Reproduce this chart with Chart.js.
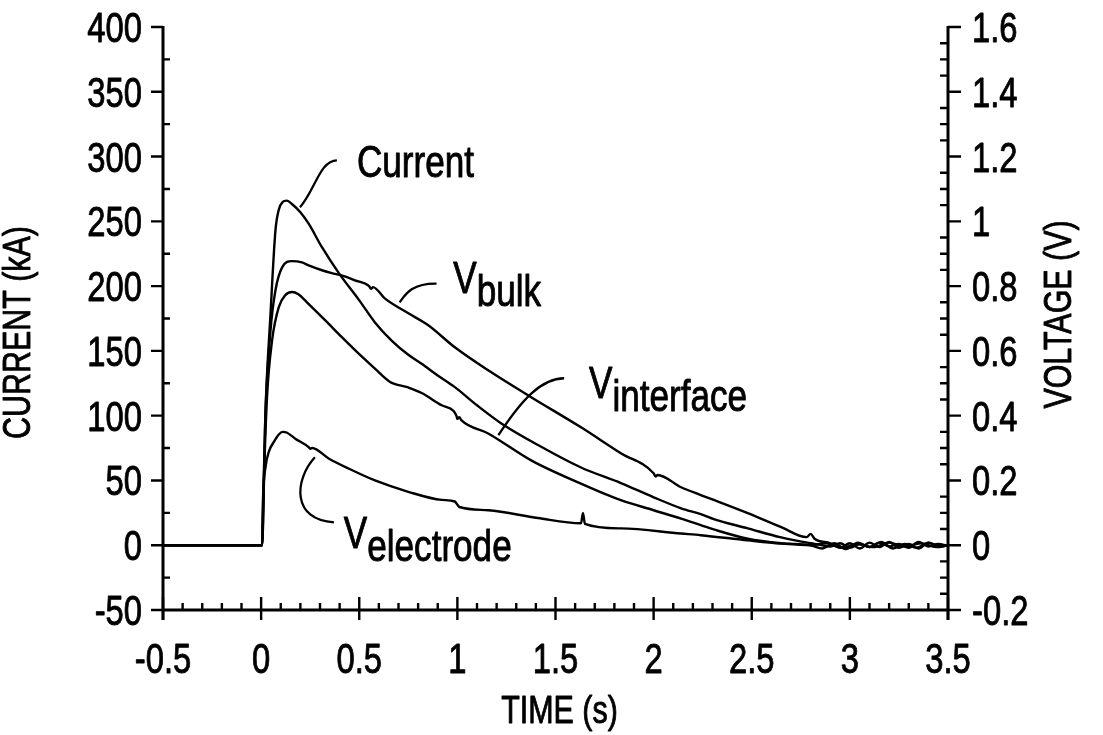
<!DOCTYPE html>
<html>
<head>
<meta charset="utf-8">
<style>
  html, body { margin: 0; padding: 0; background: #fff; }
  #wrap { width: 1103px; height: 735px; }
</style>
<script src="https://cdn.jsdelivr.net/npm/chart.js@4.4.1/dist/chart.umd.min.js"></script>
</head>
<body>
<div id="wrap"><canvas id="myChart" width="1103" height="735"></canvas></div>
<script>
// no narrow face is installed, so Liberation Sans is squeezed sideways
const FONT = "'Liberation Sans', Arial, sans-serif";
const SQUEEZE = 0.78;

// axis ticks
const timeTicks = [-0.5, 0, 0.5, 1, 1.5, 2, 2.5, 3, 3.5];
const currentTicks = [-50, 0, 50, 100, 150, 200, 250, 300, 350, 400];
const voltageTicks = [-0.2, 0, 0.2, 0.4, 0.6, 0.8, 1, 1.2, 1.4, 1.6];
const timeMinor = 0.1, currentMinor = 25, voltageMinor = 0.05;

// Current (kA), left axis
const currentTime = [-0.5, 0, 0.005, 0.022, 0.048, 0.073, 0.09, 0.11, 0.13, 0.16, 0.2, 0.243, 0.31, 0.396,
  0.5, 0.58, 0.665, 0.75, 0.818, 0.9, 0.987, 1.1, 1.224, 1.427, 1.63, 1.833, 2.0, 2.14, 2.24, 2.31, 2.48,
  2.65, 2.8, 2.84, 2.9, 2.95, 3.0, 3.05, 3.1, 3.15, 3.2, 3.25, 3.3, 3.35, 3.4, 3.45, 3.5];
const currentKA = [0, 0, 0, 102, 179, 243, 259, 265, 266, 263, 257, 248, 230, 210,
  189, 172, 158, 147, 140, 131, 122, 108, 94, 76, 60, 48, 37, 28.5, 24, 20, 13,
  6, 1.5, 0.5, -1, 1.5, -2, 1, -1.5, 2, -1, 1, -2, 2.5, -1, 1, -0.5];

// V bulk (V), right axis
const bulkTime = [-0.5, 0, 0.005, 0.009, 0.022, 0.048, 0.073, 0.107, 0.157, 0.208, 0.242, 0.31, 0.36, 0.41,
  0.478, 0.55, 0.56, 0.57, 0.63, 0.75, 0.85, 0.987, 1.157, 1.376, 1.63, 1.833, 2.0, 2.01, 2.02, 2.14, 2.24,
  2.31, 2.48, 2.65, 2.78, 2.8, 2.82, 2.9, 2.95, 3.0, 3.05, 3.1, 3.15, 3.2, 3.25, 3.3, 3.35, 3.4, 3.45, 3.5];
const bulkV = [0, 0, 0, 0.1, 0.407, 0.664, 0.787, 0.858, 0.877, 0.873, 0.864, 0.849, 0.84, 0.833,
  0.818, 0.8, 0.792, 0.797, 0.762, 0.716, 0.68, 0.611, 0.54, 0.457, 0.364, 0.284, 0.222, 0.212, 0.217, 0.179, 0.155,
  0.139, 0.099, 0.056, 0.025, 0.035, 0.02, 0.006, -0.008, 0.006, -0.01, 0.008, -0.006, 0.01, -0.008, 0.004, -0.01, 0.008, -0.004, 0];

// V interface (V), right axis
const interfaceTime = [-0.5, 0, 0.005, 0.014, 0.03, 0.056, 0.09, 0.123, 0.157, 0.19, 0.24, 0.327, 0.41, 0.496,
  0.58, 0.655, 0.75, 0.818, 0.92, 0.98, 0.995, 1.0, 1.01, 1.02, 1.157, 1.376, 1.63, 1.833, 2.0, 2.14, 2.24,
  2.31, 2.48, 2.65, 2.8, 2.86, 2.92, 2.98, 3.04, 3.1, 3.16, 3.22, 3.28, 3.34, 3.4, 3.46, 3.5];
const interfaceV = [0, 0, 0, 0.2, 0.457, 0.633, 0.735, 0.772, 0.782, 0.775, 0.746, 0.694, 0.643, 0.592,
  0.545, 0.505, 0.487, 0.47, 0.432, 0.415, 0.4, 0.39, 0.395, 0.386, 0.345, 0.262, 0.19, 0.139, 0.108, 0.082, 0.062,
  0.048, 0.02, 0.006, 0, -0.01, 0.006, -0.012, 0.008, -0.006, 0.01, -0.01, 0.004, -0.008, 0.008, -0.004, 0];

// V electrode (V), right axis
const electrodeTime = [-0.5, 0, 0.005, 0.01, 0.022, 0.04, 0.064, 0.09, 0.11, 0.13, 0.174, 0.242, 0.25, 0.26,
  0.344, 0.445, 0.58, 0.75, 0.92, 0.987, 1.0, 1.01, 1.157, 1.41, 1.63, 1.64, 1.65, 1.833, 2.14, 2.24, 2.48,
  2.65, 2.8, 2.88, 2.96, 3.04, 3.12, 3.2, 3.28, 3.36, 3.44, 3.5];
const electrodeV = [0, 0, 0, 0.15, 0.24, 0.29, 0.318, 0.342, 0.35, 0.348, 0.329, 0.303, 0.298, 0.3,
  0.268, 0.237, 0.2, 0.165, 0.14, 0.135, 0.125, 0.118, 0.108, 0.084, 0.068, 0.1, 0.066, 0.052, 0.036, 0.031, 0.015,
  0.005, 0, 0.006, -0.008, 0.004, -0.006, 0.008, -0.004, 0.006, -0.006, 0];

// curve labels, placed in data coords of the time / current axes
const notes = [
  { main: 'Current', sub: '', t: 0.488, kA: 284 },
  { main: 'V', sub: 'bulk', t: 0.979, kA: 195 },
  { main: 'V', sub: 'interface', t: 1.671, kA: 114 },
  { main: 'V', sub: 'electrode', t: 0.4215, kA: -2.3 }
];
// leader curves: start, control 1, control 2, end
const leaders = [
  [[0.386, 297.1], [0.2996, 297.1], [0.275, 274], [0.198, 260.8]],
  [[0.894, 201.9], [0.767, 202.2], [0.736, 193.7], [0.706, 187.5]],
  [[1.544, 128.9], [1.427, 128.9], [1.3255, 111.9], [1.209, 84.9]],
  [[0.371, 17.7], [0.157, 19.3], [0.167, 50.2], [0.274, 67.9]]
];

const pts = (ts, vs) => ts.map((t, i) => ({ x: t, y: vs[i] }));
const fmt = v => String(Number(v.toFixed(2)));

const line = (data, axis) => ({
  data: data,
  yAxisID: axis,
  borderColor: '#000',
  borderWidth: 2.4,
  pointRadius: 0,
  fill: false,
  cubicInterpolationMode: 'monotone'
});

// squeezed text, with a thin outline to get the weight of the scanned lettering
function narrowText(ctx, text, x, y, size, align, angle) {
  ctx.save();
  ctx.translate(x, y);
  if (angle) ctx.rotate(angle);
  ctx.scale(SQUEEZE, 1);
  ctx.font = size + 'px ' + FONT;
  ctx.textAlign = align;
  ctx.textBaseline = 'alphabetic';
  ctx.lineWidth = 0.9;
  ctx.lineJoin = 'round';
  ctx.fillText(text, 0, 0);
  ctx.strokeText(text, 0, 0);
  ctx.restore();
}

function narrowWidth(ctx, text, size) {
  ctx.save();
  ctx.font = size + 'px ' + FONT;
  const w = ctx.measureText(text).width * SQUEEZE;
  ctx.restore();
  return w;
}

const axesPlugin = {
  id: 'axesPlugin',
  afterDraw(chart) {
    const { ctx, chartArea: a, scales } = chart;
    const x = scales.x, y = scales.y, y1 = scales.y1;
    ctx.save();
    ctx.strokeStyle = '#000';
    ctx.fillStyle = '#000';
    ctx.lineWidth = 3;
    ctx.beginPath();
    ctx.moveTo(a.left, a.top - 1); ctx.lineTo(a.left, a.bottom + 10);
    ctx.moveTo(a.right, a.top - 1); ctx.lineTo(a.right, a.bottom + 10);
    ctx.moveTo(a.left, a.bottom); ctx.lineTo(a.right, a.bottom);
    ctx.stroke();

    ctx.lineWidth = 2.4;
    ctx.beginPath();
    // left axis
    y.ticks.forEach(tk => {
      const p = y.getPixelForValue(tk.value);
      ctx.moveTo(a.left - 12, p); ctx.lineTo(a.left, p);
    });
    let n = Math.round((y.max - y.min) / currentMinor);
    for (let i = 1; i < n; i += 2) {
      const p = y.getPixelForValue(y.min + i * currentMinor);
      ctx.moveTo(a.left, p); ctx.lineTo(a.left + 7, p);
    }
    // right axis
    y1.ticks.forEach(tk => {
      const p = y1.getPixelForValue(tk.value);
      ctx.moveTo(a.right, p); ctx.lineTo(a.right + 13, p);
    });
    n = Math.round((y1.max - y1.min) / voltageMinor);
    for (let i = 1; i < n; i++) {
      if (i % 4 === 0) continue;
      const p = y1.getPixelForValue(y1.min + i * voltageMinor);
      ctx.moveTo(a.right - 8, p); ctx.lineTo(a.right, p);
    }
    // bottom axis
    x.ticks.forEach(tk => {
      const p = x.getPixelForValue(tk.value);
      ctx.moveTo(p, a.bottom - 13); ctx.lineTo(p, a.bottom + 10);
    });
    n = Math.round((x.max - x.min) / timeMinor);
    for (let i = 1; i < n; i++) {
      if (i % 5 === 0) continue;
      const p = x.getPixelForValue(x.min + i * timeMinor);
      ctx.moveTo(p, a.bottom - 7); ctx.lineTo(p, a.bottom);
    }
    ctx.stroke();

    // tick labels
    y.ticks.forEach(tk => narrowText(ctx, fmt(tk.value), a.left - 21, y.getPixelForValue(tk.value) + 15, 42, 'right'));
    y1.ticks.forEach(tk => narrowText(ctx, fmt(tk.value), a.right + 24, y1.getPixelForValue(tk.value) + 15, 42, 'left'));
    x.ticks.forEach(tk => narrowText(ctx, fmt(tk.value), x.getPixelForValue(tk.value), a.bottom + 63, 42, 'center'));

    // axis titles
    narrowText(ctx, 'TIME (s)', (a.left + a.right) / 2 + 4, a.bottom + 113, 39, 'center');
    ctx.save();
    ctx.translate(30, (a.top + a.bottom) / 2);
    narrowText(ctx, 'CURRENT (kA)', 0, 14, 39, 'center', -Math.PI / 2);
    ctx.restore();
    ctx.save();
    ctx.translate(a.right + 123, (a.top + a.bottom) / 2 - 18);
    narrowText(ctx, 'VOLTAGE (V)', 0, 14, 39, 'center', -Math.PI / 2);
    ctx.restore();

    // leader curves and curve labels
    ctx.lineWidth = 2.3;
    leaders.forEach(l => {
      const q = l.map(([t, v]) => [x.getPixelForValue(t), y.getPixelForValue(v)]);
      ctx.beginPath();
      ctx.moveTo(q[0][0], q[0][1]);
      ctx.bezierCurveTo(q[1][0], q[1][1], q[2][0], q[2][1], q[3][0], q[3][1]);
      ctx.stroke();
    });
    notes.forEach(nt => {
      const px = x.getPixelForValue(nt.t), py = y.getPixelForValue(nt.kA);
      narrowText(ctx, nt.main, px, py, 45, 'left');
      if (nt.sub) narrowText(ctx, nt.sub, px + narrowWidth(ctx, nt.main, 45), py + 13, 45, 'left');
    });
    ctx.restore();
  }
};

new Chart(document.getElementById('myChart'), {
  type: 'line',
  data: {
    datasets: [
      line(pts(currentTime, currentKA), 'y'),
      line(pts(bulkTime, bulkV), 'y1'),
      line(pts(interfaceTime, interfaceV), 'y1'),
      line(pts(electrodeTime, electrodeV), 'y1')
    ]
  },
  options: {
    responsive: false,
    animation: false,
    devicePixelRatio: 1,
    layout: { padding: { top: 27, left: 0, right: 0, bottom: 0 } },
    plugins: { legend: { display: false }, tooltip: { enabled: false } },
    scales: {
      x: {
        type: 'linear', min: -0.5, max: 3.5,
        afterBuildTicks: s => { s.ticks = timeTicks.map(v => ({ value: v })); },
        afterFit: s => { s.height = 125; },
        grid: { display: false, drawTicks: false },
        border: { display: false },
        ticks: { display: false }
      },
      y: {
        position: 'left', min: -50, max: 400,
        afterBuildTicks: s => { s.ticks = currentTicks.map(v => ({ value: v })); },
        afterFit: s => { s.width = 163; },
        grid: { display: false, drawTicks: false },
        border: { display: false },
        ticks: { display: false }
      },
      y1: {
        position: 'right', min: -0.2, max: 1.6,
        afterBuildTicks: s => { s.ticks = voltageTicks.map(v => ({ value: v })); },
        afterFit: s => { s.width = 155; },
        grid: { display: false, drawTicks: false },
        border: { display: false },
        ticks: { display: false }
      }
    }
  },
  plugins: [axesPlugin]
});
</script>
</body>
</html>
